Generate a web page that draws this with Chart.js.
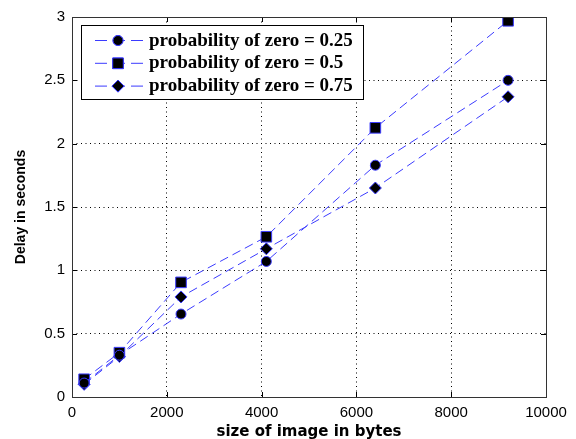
<!DOCTYPE html>
<html>
<head>
<meta charset="utf-8">
<script src="https://cdn.jsdelivr.net/npm/chart.js@4"></script>
<style>
  html, body { margin: 0; padding: 0; background: #fff; }
  #wrap { width: 576px; height: 439px; }
</style>
</head>
<body>
<div id="wrap"><canvas id="delayChart" width="576" height="439"></canvas></div>
<script>
/* ── Data ─────────────────────────────────────────────── */
const imageSizes = [256, 1000, 2300, 4100, 6400, 9200];
const delayP025  = [0.11, 0.33, 0.655, 1.07, 1.83, 2.50];
const delayP050  = [0.14, 0.35, 0.905, 1.265, 2.125, 2.97];
const delayP075  = [0.10, 0.32, 0.79, 1.17, 1.65, 2.37];
const seriesLabels = ['probability of zero = 0.25', 'probability of zero = 0.5', 'probability of zero = 0.75'];
const xTicks = [0, 2000, 4000, 6000, 8000, 10000];
const yTicks = [0, 0.5, 1, 1.5, 2, 2.5, 3];

const LINE = '#3b3bff';
const TICK_FONT = { family: '"Liberation Sans", Arial, sans-serif', size: 15 };
const toPoints = ys => imageSizes.map((x, i) => ({ x, y: ys[i] }));

function series(label, ys, style, radius) {
  return {
    label,
    data: toPoints(ys),
    showLine: true,
    borderColor: LINE,
    borderWidth: 1,
    borderDash: [9, 5],
    pointStyle: style,
    pointRadius: radius,
    pointBackgroundColor: '#000',
    pointBorderColor: LINE,
    pointBorderWidth: 1,
  };
}

/* ── Box, inward ticks and legend (MATLAB look) ──────── */
const matlabFrame = {
  id: 'matlabFrame',
  afterDraw(chart) {
    const { ctx, chartArea: a, scales } = chart;
    ctx.save();
    ctx.strokeStyle = '#000';
    ctx.lineWidth = 1;
    ctx.setLineDash([]);
    ctx.beginPath();
    xTicks.forEach(v => {
      const px = Math.round(scales.x.getPixelForValue(v)) + 0.5;
      ctx.moveTo(px, a.bottom); ctx.lineTo(px, a.bottom - 5);
      ctx.moveTo(px, a.top);    ctx.lineTo(px, a.top + 5);
    });
    yTicks.forEach(v => {
      const py = Math.round(scales.y.getPixelForValue(v)) + 0.5;
      ctx.moveTo(a.left, py);  ctx.lineTo(a.left + 5, py);
      ctx.moveTo(a.right, py); ctx.lineTo(a.right - 5, py);
    });
    ctx.stroke();
    ctx.strokeStyle = '#333';
    ctx.strokeRect(Math.round(a.left) + 0.5, Math.round(a.top) + 0.5,
                   Math.round(a.right - a.left), Math.round(a.bottom - a.top));

    // legend box
    const lx = 81, ly = 25, lw = 282, lh = 74;
    ctx.fillStyle = '#fff';
    ctx.fillRect(lx, ly, lw, lh);
    ctx.strokeStyle = '#000';
    ctx.strokeRect(lx + 0.5, ly + 0.5, lw, lh);
    ctx.font = 'bold 19px "Liberation Serif", serif';
    ctx.textBaseline = 'alphabetic';
    chart.data.datasets.forEach((ds, i) => {
      const base = 45.5 + i * 22.8;
      const y = base - 5;
      ctx.strokeStyle = LINE;
      ctx.setLineDash([12, 6]);
      ctx.beginPath();
      ctx.moveTo(95, y); ctx.lineTo(145, y);
      ctx.stroke();
      ctx.setLineDash([]);
      Chart.helpers.drawPoint(ctx, {
        pointStyle: ds.pointStyle, radius: ds.pointRadius, borderWidth: 1
      }, 118, y);
      ctx.fillStyle = '#000';
      ctx.strokeStyle = LINE;
      ctx.fill();
      ctx.stroke();
      ctx.fillStyle = '#000';
      ctx.fillText(ds.label, 149, base);
    });
    ctx.restore();
  }
};

/* ── Chart ────────────────────────────────────────────── */
new Chart(document.getElementById('delayChart'), {
  type: 'scatter',
  data: {
    datasets: [
      series(seriesLabels[0], delayP025, 'circle', 5),
      series(seriesLabels[1], delayP050, 'rect', 7.5),
      series(seriesLabels[2], delayP075, 'rectRot', 6),
    ]
  },
  options: {
    responsive: false,
    animation: false,
    layout: { padding: { left: 0, top: 17, right: 30, bottom: 0 } },
    plugins: { legend: { display: false }, tooltip: { enabled: false } },
    scales: {
      x: {
        type: 'linear',
        min: 0, max: 10000,
        afterFit: s => { s.height = 42; },
        afterBuildTicks: s => { s.ticks = xTicks.map(v => ({ value: v })); },
        grid: { color: '#000', lineWidth: 1, drawTicks: false },
        border: { display: false, dash: [1, 3.5] },
        ticks: { color: '#000', padding: 7, maxRotation: 0, font: TICK_FONT,
                 callback: v => String(v) },
        title: { display: true, text: 'size of image in bytes', color: '#000',
                 padding: { top: 0, bottom: -2 },
                 font: { family: '"DejaVu Sans", Verdana, sans-serif', size: 15, weight: 'bold' } }
      },
      y: {
        type: 'linear',
        min: 0, max: 3,
        afterFit: s => { s.width = 72; },
        afterBuildTicks: s => { s.ticks = yTicks.map(v => ({ value: v })); },
        grid: { color: '#000', lineWidth: 1, drawTicks: false },
        border: { display: false, dash: [1, 3.5] },
        ticks: { color: '#000', padding: 7, font: TICK_FONT,
                 callback: v => String(v) },
        title: { display: true, text: 'Delay in seconds', color: '#000',
                 padding: { top: 12.5, bottom: 0 },
                 font: { family: '"Liberation Sans", Arial, sans-serif', size: 14, weight: 'bold' } }
      }
    }
  },
  plugins: [matlabFrame]
});
</script>
</body>
</html>
